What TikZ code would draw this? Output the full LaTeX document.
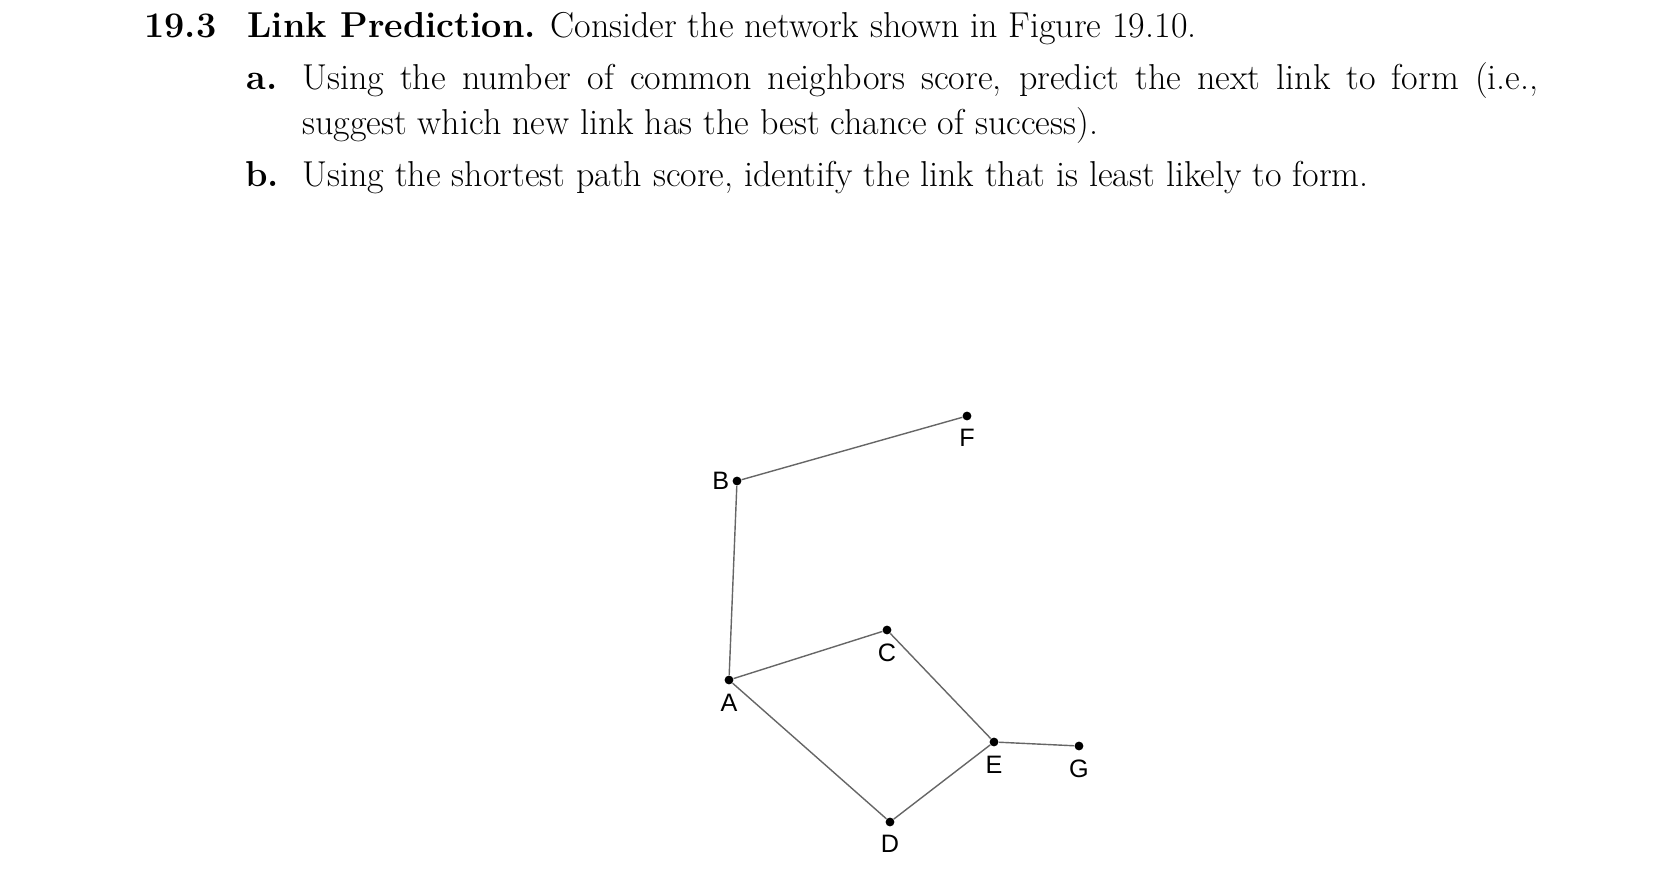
\documentclass[tikz,border=0pt]{standalone}
\usepackage{fontspec}
\setsansfont{Liberation Sans}

\begin{document}
\begin{tikzpicture}[x=0.5pt, y=-0.5pt,
  txt/.style={anchor=base west, inner sep=0pt, font=\fontsize{18}{22}\selectfont},
  dot/.style={circle, fill=black, inner sep=0pt, minimum size=4.4pt},
  lbl/.style={font=\sffamily\fontsize{12.6}{14}\selectfont, inner sep=0pt},
  link/.style={draw=black!60, line width=0.7pt}]
  \useasboundingbox (0,0) rectangle (1678,872);
  % exercise text
  \node[txt] (num) at (144,38) {\bfseries 19.3};
  \node[txt] (head) at (247,38) {\textbf{Link Prediction.} Consider the network shown in Figure 19.10.};
  \node[txt] (ia) at (246,90) {\bfseries a.};
  \node[txt] (la) at (302,90) {\makebox[618pt][s]{Using the number of common neighbors score, predict the next link to form (i.e.,}};
  \node[txt] (la2) at (302,135) {suggest which new link has the best chance of success).};
  \node[txt] (ib) at (245,187) {\bfseries b.};
  \node[txt] (lb) at (302,187) {Using the shortest path score, identify the link that is least likely to form.};
  % network: name/x/y/label side/label distance
  \foreach \n/\x/\y/\p/\d in {A/729/680/below/4.5, B/737/481/left/1.3, C/887/630/below/4.5,
      D/890/822/below/4, E/994/742/below/4.5, F/967/416/below/4, G/1079/746/below/4.5}
    \node[dot, label={[lbl, label distance=\d pt]\p:\n}] (\n) at (\x,\y) {};
  \foreach \u/\v in {B/F, B/A, A/C, A/D, C/E, D/E, E/G}
    \draw[link] (\u) -- (\v);
\end{tikzpicture}
\end{document}
